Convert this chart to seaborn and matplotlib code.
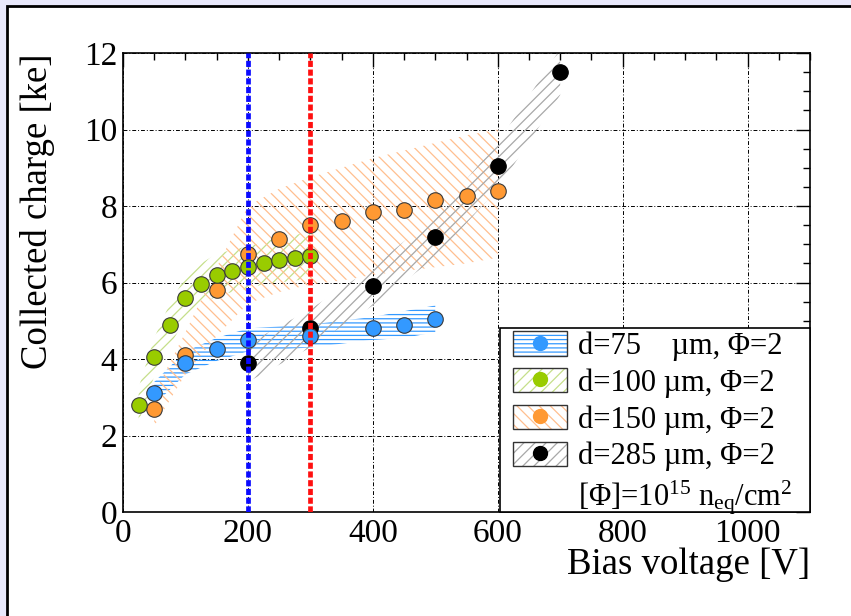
import matplotlib
matplotlib.use("Agg")
import matplotlib.pyplot as plt
import numpy as np
import pandas as pd
import seaborn as sns
from matplotlib.patches import Patch, Rectangle
from matplotlib.lines import Line2D
from matplotlib.ticker import MultipleLocator

# ---------------- data ----------------
v75 = [50, 100, 150, 200, 300, 400, 450, 500]
q75 = [3.1, 3.9, 4.25, 4.5, 4.6, 4.8, 4.9, 5.05]
e75 = [0.3, 0.3, 0.3, 0.3, 0.3, 0.3, 0.35, 0.35]

v100 = [25, 50, 75, 100, 125, 150, 175, 200, 225, 250, 275, 300]
q100 = [2.8, 4.05, 4.9, 5.6, 5.95, 6.2, 6.3, 6.4, 6.5, 6.6, 6.65, 6.7]
e100 = [0.45, 0.5, 0.55, 0.55, 0.55, 0.55, 0.55, 0.55, 0.55, 0.6, 0.6, 0.6]

v150 = [50, 100, 150, 200, 250, 300, 350, 400, 450, 500, 550, 600]
q150 = [2.7, 4.1, 5.8, 6.75, 7.15, 7.5, 7.6, 7.85, 7.9, 8.15, 8.25, 8.4]
lo150 = [2.25, 3.6, 4.6, 5.45, 5.75, 5.95, 6.05, 6.2, 6.3, 6.4, 6.5, 6.65]
hi150 = [3.1, 4.7, 6.4, 8.0, 8.45, 8.75, 9.0, 9.25, 9.45, 9.65, 9.85, 10.0]

v285 = [200, 300, 400, 500, 600, 700]
q285 = [3.9, 4.8, 5.9, 7.2, 9.05, 11.5]
e285 = [0.5, 0.5, 0.5, 0.55, 0.6, 0.6]

labels = ["d=75    µm, Φ=2", "d=100 µm, Φ=2", "d=150 µm, Φ=2", "d=285 µm, Φ=2"]
note = r"[Φ]=10$^{15}$ n$_{\rm eq}$/cm$^{2}$"
vlines = [200, 300]

colors = ["#3399ff", "#99cc00", "#ff9933", "#000000"]
hatch_colors = ["#3399ff", "#c5df8a", "#ffbf8f", "#a8a8a8"]
hatches = ["----", "///", "\\\\\\", "///"]
vline_colors = ["#0a0aff", "#ff1010"]

# ---------------- style ----------------
sns.set_theme(style="white")
plt.rcParams["font.family"] = ["Liberation Serif", "DejaVu Serif"]
plt.rcParams["mathtext.fontset"] = "custom"
plt.rcParams["mathtext.rm"] = "Liberation Serif"
plt.rcParams["mathtext.it"] = "Liberation Serif:italic"
plt.rcParams["hatch.linewidth"] = 0.9
plt.rcParams["text.color"] = "black"
plt.rcParams["axes.labelcolor"] = "black"
plt.rcParams["xtick.color"] = "black"
plt.rcParams["ytick.color"] = "black"

fig = plt.figure(figsize=(8.51, 6.16), dpi=100)
fig.patch.set_facecolor("#e8e8fb")
panel = Rectangle((7 / 851, -0.2), 1.5, 1.2 - 6 / 616, transform=fig.transFigure,
                  facecolor="white", edgecolor="black", linewidth=2.0, zorder=-10)
fig.patches.append(panel)

ax = fig.add_axes([123 / 851, 1 - 512 / 616, 687 / 851, 459 / 616])
ax.set_facecolor("none")

# bands
ax.fill_between(v75, np.subtract(q75, e75), np.add(q75, e75), facecolor="none",
                edgecolor=hatch_colors[0], hatch=hatches[0], linewidth=0, zorder=1)
ax.fill_between(v100, np.subtract(q100, e100), np.add(q100, e100), facecolor="none",
                edgecolor=hatch_colors[1], hatch=hatches[1], linewidth=0, zorder=1)
ax.fill_between(v150, lo150, hi150, facecolor="none",
                edgecolor=hatch_colors[2], hatch=hatches[2], linewidth=0, zorder=1)
ax.fill_between(v285, np.subtract(q285, e285), np.add(q285, e285), facecolor="none",
                edgecolor=hatch_colors[3], hatch=hatches[3], linewidth=0, zorder=1)

# points (order: black, orange, green, blue)
df = pd.concat([
    pd.DataFrame({"V": v285, "Q": q285, "s": labels[3]}),
    pd.DataFrame({"V": v150, "Q": q150, "s": labels[2]}),
    pd.DataFrame({"V": v100, "Q": q100, "s": labels[1]}),
    pd.DataFrame({"V": v75, "Q": q75, "s": labels[0]}),
])
for lab, col, z in zip(labels[::-1], colors[::-1], [3, 4, 5, 6]):
    sub = df[df["s"] == lab]
    sns.scatterplot(data=sub, x="V", y="Q", color=col, s=125,
                    edgecolor="#000000" if col == "#000000" else "#3a3a3a",
                    linewidth=0.8, legend=False, ax=ax, zorder=z)

# vertical lines
for xv, c in zip(vlines, vline_colors):
    ax.axvline(xv, color=c, linewidth=3.4, linestyle=(0, (1.3, 0.55)),
               dash_capstyle="butt", zorder=8)

# axes
ax.set_xlim(0, 1100)
ax.set_ylim(0, 12)
ax.xaxis.set_major_locator(MultipleLocator(200))
ax.xaxis.set_minor_locator(MultipleLocator(50))
ax.yaxis.set_major_locator(MultipleLocator(2))
ax.yaxis.set_minor_locator(MultipleLocator(0.5))
ax.grid(True, which="major", color="black", linewidth=0.7,
        linestyle=(0, (4, 2, 1, 2)), zorder=0)
ax.set_axisbelow(True)
ax.tick_params(which="both", direction="in", top=True, right=True, colors="black",
               labelcolor="black", labelsize=24, width=1.0)
ax.tick_params(which="major", length=10, pad=4)
ax.tick_params(which="minor", length=5)
ax.tick_params(axis="x", which="major", pad=5)
for sp in ax.spines.values():
    sp.set_visible(True)
    sp.set_color("black")
    sp.set_linewidth(1.2)

ax.set_xlabel("Bias voltage [V]", fontsize=26.5, loc="right", color="black")
ax.set_ylabel("Collected charge [ke]", fontsize=26.5, loc="top", color="black")
ax.xaxis.set_label_coords(1.0, -0.078)
ax.yaxis.set_label_coords(-0.099, 1.0)

# legend frame (drawn separately so its extent matches the reference)
frame = Rectangle((377 / 687, 0.0), 310 / 687, 0.401, transform=ax.transAxes,
                  facecolor="white", edgecolor="black", linewidth=1.2, zorder=9,
                  clip_on=False)
ax.add_patch(frame)

handles = []
for col, hc, h in zip(colors, hatch_colors, hatches):
    p1 = Patch(facecolor="white", edgecolor=hc, hatch=h, linewidth=0)
    p2 = Patch(facecolor="none", edgecolor="#333333", linewidth=1.0)
    m = Line2D([], [], linestyle="none", marker="o", markersize=10,
               markerfacecolor=col, markeredgecolor=col)
    handles.append((p1, p2, m))
handles.append(Patch(facecolor="none", edgecolor="none"))
leg = ax.legend(handles, labels + [note], loc="upper left",
                bbox_to_anchor=(390 / 687, 0.3937),
                fontsize=22, frameon=False, borderpad=0.0, labelspacing=0.23,
                handlelength=1.77, handleheight=0.85, handletextpad=0.36,
                borderaxespad=0.0)
leg.set_zorder(10)

fig.savefig("out.png", dpi=100, facecolor=fig.get_facecolor())
